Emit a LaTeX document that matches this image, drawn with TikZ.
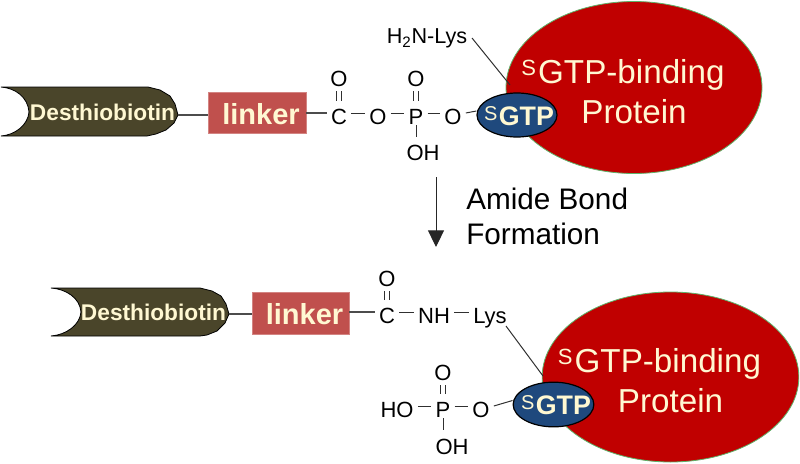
\documentclass[tikz,border=0pt]{standalone}
\usepackage{fontspec}
\setmainfont{Liberation Sans}
\usetikzlibrary{arrows.meta,shapes.geometric}
\newcommand{\fsz}[1]{\fontsize{\dimexpr#1pt*3/4\relax}{\dimexpr#1pt*9/10\relax}\selectfont}
\definecolor{brownbody}{HTML}{4A452A}
\definecolor{linkred}{HTML}{C0504D}
\definecolor{protred}{HTML}{C00000}
\definecolor{gtpblue}{HTML}{1F497D}
\definecolor{cream}{HTML}{FFF8D2}
\definecolor{edgegreen}{HTML}{5FB26A}
\definecolor{bondgrey}{HTML}{303030}
\tikzset{
  chem/.style={inner sep=3pt,text height=11.8pt,text depth=0pt,font=\fsz{22},text=black},
  bond/.style={draw=bondgrey,line width=0.75pt},
  link/.style={draw=black!70,line width=1.1pt},
  protein/.style={ellipse,draw=edgegreen,line width=0.6pt,fill=protred,inner sep=0pt},
  gtp/.style={ellipse,draw=black,line width=0.9pt,fill=gtpblue,inner sep=0pt},
  linkbox/.style={rectangle,fill=linkred,draw=linkred!70!white,line width=0.4pt,font=\fsz{29}\bfseries,text=cream,inner sep=0pt,text depth=0pt},
  dlabel/.style={font=\fsz{22.7}\bfseries,text=cream,inner sep=0pt},
  ptext/.style={font=\fsz{33.2},text=cream,align=center,inner sep=0pt},
  gtext/.style={font=\fsz{26.8}\bfseries,text=cream,inner sep=0pt},
  note/.style={font=\fsz{29.7},text=black,anchor=west,inner sep=0pt},
  bodyshape/.style={fill=brownbody,draw=black,line width=0.6pt}
}
\newcommand{\protS}{\raisebox{6.5pt}{\fsz{22}S}\hspace{1.5pt}}
\newcommand{\gtpS}{\raisebox{4.2pt}{\fsz{20}\mdseries S}\hspace{1pt}}
\begin{document}
\begin{tikzpicture}[x=0.75pt,y=-0.75pt]
\useasboundingbox (0,0) rectangle (800,464);
% ---- top construct
\draw[bodyshape] (1,87) -- (148,87) -- (160,90) -- (170,96) -- (175,104) -- (178,115)
  -- (174,123) -- (166,130) -- (156,134) -- (147,136) -- (1,136)
  .. controls (15,135) and (28,125) .. (29,112) .. controls (28,97) and (15,88) .. (1,87) -- cycle;
\coordinate (dtipA) at (178,115);
\node[dlabel] (dA) at (102.5,112) {Desthiobiotin};
\node[linkbox,minimum width=73.5pt,minimum height=30.75pt] (lA) at (257,112.5) {\hspace*{6pt}\raisebox{-2.5pt}{linker}};
\node[chem] (cA) at (339,117) {C};
\node[chem] (oA) at (339,79) {O};
\node[chem] (o2A) at (378,117) {O};
\node[chem] (pA) at (416,117) {P};
\node[chem] (o3A) at (416,79) {O};
\node[chem] (ohA) at (423,153) {OH};
\node[chem] (o4A) at (453,117) {O};
\node[chem,font=\fsz{21.6}] (lysA) at (427,36) {H\textsubscript{2}N-Lys};
\node[protein,minimum width=192pt,minimum height=129pt] (protA) at (634,87.5) {};
\node[ptext] (ptA) at (634,92) {\protS GTP-binding\hspace*{16.5pt}\\Protein};
\coordinate (lysendA) at (510,85);
\coordinate (lysstartA) at (472,38);
\draw[bond] (lysstartA) -- (lysendA);
\node[gtp,minimum width=60pt,minimum height=33pt] (gA) at (517,115) {};
\node[gtext] (gtA) at (519,116) {\gtpS GTP};
\draw[link] (dtipA) -- (dtipA -| lA.west);
\draw[link] ([yshift=3pt]cA.west -| lA.east) -- ([yshift=3pt]cA.west);
\draw[bond] ([yshift=3pt]cA.east) -- ([yshift=3pt]o2A.west);
\draw[bond] ([yshift=3pt]o2A.east) -- ([yshift=3pt]pA.west);
\draw[bond] ([yshift=3pt]pA.east) -- ([yshift=3pt]o4A.west);
\draw[bond] ([yshift=3pt]o4A.east) -- ([yshift=3pt]gA.west);
\draw[bond] ([xshift=-1.6pt,yshift=3pt]cA.north) -- ([xshift=-1.6pt]oA.south);
\draw[bond] ([xshift=1.6pt,yshift=3pt]cA.north) -- ([xshift=1.6pt]oA.south);
\draw[bond] ([xshift=-1.6pt,yshift=3pt]pA.north) -- ([xshift=-1.6pt]o3A.south);
\draw[bond] ([xshift=1.6pt,yshift=3pt]pA.north) -- ([xshift=1.6pt]o3A.south);
\draw[bond] ([yshift=3pt]pA.south) -- ([yshift=3pt]pA.south |- ohA.north);
% ---- reaction arrow
\coordinate (arrS) at (436,177);
\coordinate (arrE) at (436,247);
\draw[draw=black!85,line width=0.75pt,-{Triangle[length=12.5pt,width=12pt]}] (arrS) -- (arrE);
\node[note] (amide) at (466,199) {Amide Bond};
\node[note] (form) at (466,234) {Formation};
% ---- bottom construct
\draw[bodyshape] (51,288) -- (200,288) -- (212,291) -- (221,296) -- (226,304) -- (229,314)
  -- (225,323) -- (217,331) -- (207,335) -- (200,336) -- (51,336)
  .. controls (66,335) and (80,325) .. (81,312) .. controls (80,298) and (66,289) .. (51,288) -- cycle;
\coordinate (dtipB) at (229,314);
\node[dlabel] (dB) at (153.5,312) {Desthiobiotin};
\node[linkbox,minimum width=73pt,minimum height=31.5pt] (lB) at (300.5,313) {\hspace*{6pt}\raisebox{-2pt}{linker}};
\node[chem] (cB) at (387,316) {C};
\node[chem] (oB) at (387,279) {O};
\node[chem] (nB) at (434,316) {NH};
\node[chem] (lysB) at (490,316) {Lys};
\node[protein,minimum width=192.5pt,minimum height=127.5pt] (protB) at (670.5,377) {};
\node[ptext] (ptB) at (670.5,381) {\protS GTP-binding\hspace*{16.5pt}\\Protein};
\coordinate (lysendB) at (543,376);
\coordinate (lysstartB) at (506,326);
\draw[bond] (lysstartB) -- (lysendB);
\node[gtp,minimum width=60.5pt,minimum height=33.5pt] (gB) at (553.5,404.5) {};
\node[gtext] (gtB) at (556,405) {\gtpS GTP};
\node[chem] (hoB) at (397,410) {HO};
\node[chem] (pB) at (443,410) {P};
\node[chem] (o3B) at (443,373) {O};
\node[chem] (ohB) at (452,446.5) {OH};
\node[chem] (o4B) at (481,410) {O};
\draw[link] (dtipB) -- (dtipB -| lB.west);
\draw[link,line width=0.9pt] ([yshift=3pt]cB.west -| lB.east) -- ([yshift=3pt]cB.west);
\draw[bond] ([yshift=3pt]cB.east) -- ([yshift=3pt]nB.west);
\draw[bond] ([yshift=3pt]nB.east) -- ([yshift=3pt]lysB.west);
\draw[bond] ([xshift=-1.6pt,yshift=3pt]cB.north) -- ([xshift=-1.6pt]oB.south);
\draw[bond] ([xshift=1.6pt,yshift=3pt]cB.north) -- ([xshift=1.6pt]oB.south);
\draw[bond] ([yshift=3pt]hoB.east) -- ([yshift=3pt]pB.west);
\draw[bond] ([yshift=3pt]pB.east) -- ([yshift=3pt]o4B.west);
\draw[bond] ([yshift=3pt]o4B.east) -- ([yshift=3pt]gB.west);
\draw[bond] ([xshift=-1.6pt,yshift=3pt]pB.north) -- ([xshift=-1.6pt]o3B.south);
\draw[bond] ([xshift=1.6pt,yshift=3pt]pB.north) -- ([xshift=1.6pt]o3B.south);
\draw[bond] ([yshift=3pt]pB.south) -- ([yshift=3pt]pB.south |- ohB.north);
\end{tikzpicture}
\end{document}
